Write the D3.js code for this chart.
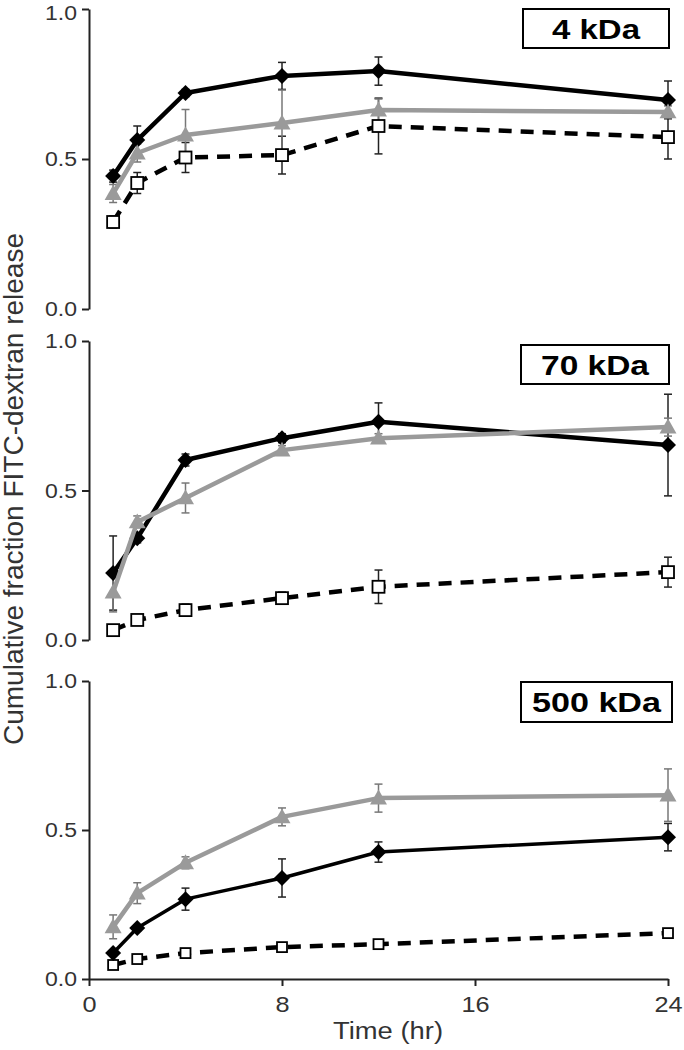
<!DOCTYPE html>
<html><head><meta charset="utf-8">
<script src="https://cdn.jsdelivr.net/npm/d3@7"></script>
<style>body{margin:0;background:#fff;} svg{display:block;}</style>
</head><body>
<svg id="c" width="684" height="1050"></svg>
<script>
const times = [1, 2, 4, 8, 12, 24];
const panelLabels = ["4 kDa", "70 kDa", "500 kDa"];
const xTicks = [0, 8, 16, 24];
const yTicks = [0, 0.5, 1.0];

// 4 kDa
const black4 = [0.443, 0.563, 0.72, 0.777, 0.793, 0.697];
const black4Err = [0.02, 0.047, 0.012, 0.045, 0.047, 0.063];
const gray4 = [0.385, 0.52, 0.58, 0.62, 0.663, 0.657];
const gray4Err = [0.03, 0.03, 0.085, 0.11, 0.037, 0.02];
const open4 = [0.29, 0.42, 0.505, 0.513, 0.61, 0.573];
const open4Err = [0.02, 0.035, 0.05, 0.063, 0.093, 0.073];
// 70 kDa
const black70 = [0.224, 0.34, 0.602, 0.675, 0.73, 0.652];
const black70Err = [0.124, 0.015, 0.02, 0.015, 0.063, 0.17];
const gray70 = [0.16, 0.395, 0.475, 0.635, 0.675, 0.712];
const gray70Err = [0.066, 0.02, 0.05, 0.015, 0.015, 0.03];
const open70 = [0.033, 0.067, 0.1, 0.14, 0.178, 0.227];
const open70Err = [0.01, 0.01, 0.02, 0.02, 0.056, 0.05];
// 500 kDa
const black500 = [0.087, 0.171, 0.268, 0.339, 0.426, 0.476];
const black500Err = [0.01, 0.01, 0.037, 0.064, 0.034, 0.046];
const gray500 = [0.175, 0.288, 0.39, 0.544, 0.607, 0.617];
const gray500Err = [0.04, 0.035, 0.02, 0.03, 0.047, 0.088];
const open500 = [0.047, 0.067, 0.087, 0.107, 0.117, 0.154];
const open500Err = [0.005, 0.005, 0.005, 0.005, 0.005, 0.005];

const panels = [
  {label: panelLabels[0], black: black4, blackErr: black4Err, gray: gray4, grayErr: gray4Err, open: open4, openErr: open4Err},
  {label: panelLabels[1], black: black70, blackErr: black70Err, gray: gray70, grayErr: gray70Err, open: open70, openErr: open70Err},
  {label: panelLabels[2], black: black500, blackErr: black500Err, gray: gray500, grayErr: gray500Err, open: open500, openErr: open500Err}
];

const svg = d3.select("#c");
const font = "'Liberation Sans', Arial, Helvetica, sans-serif";
const STRETCH = 1.15;
function stretch(sel) {
  sel.each(function () {
    const w = this.getComputedTextLength();
    d3.select(this).attr("textLength", w * STRETCH).attr("lengthAdjust", "spacingAndGlyphs");
  });
}
const x = d3.scaleLinear().domain([0, 24]).range([89, 668]);
const yRanges = [[309, 9], [640, 341], [979, 681]];
const boxes = [[523, 9, 146, 39], [521, 345, 148, 39], [521, 682, 151, 40]];

panels.forEach((p, i) => {
  const y = d3.scaleLinear().domain([0, 1]).range(yRanges[i]);
  const g = svg.append("g");

  const ya = g.append("g").attr("transform", `translate(${x(0)},0)`)
    .call(d3.axisLeft(y).tickValues(yTicks).tickFormat(d3.format(".1f")).tickSize(7).tickSizeOuter(0).tickPadding(5));
  ya.select(".domain").attr("stroke", "#222").attr("stroke-width", 2);
  ya.selectAll(".tick line").attr("stroke", "#222").attr("stroke-width", 2);
  ya.selectAll(".tick text").attr("font-family", font).attr("font-size", 20).attr("fill", "#333")
    .attr("dy", d => (i === 0 && d === 1 ? "0.5em" : "0.34em")).call(stretch);

  if (i === 2) {
    const xa = g.append("g").attr("transform", `translate(0,${y(0)})`)
      .call(d3.axisBottom(x).tickValues(xTicks).tickSize(7).tickSizeOuter(0).tickPadding(10));
    xa.select(".domain").attr("stroke", "#222").attr("stroke-width", 2);
    xa.selectAll(".tick line").attr("stroke", "#222").attr("stroke-width", 2);
    xa.selectAll(".tick text").attr("font-family", font).attr("font-size", 22).attr("fill", "#333").call(stretch);
  }

  const line = d3.line().x(d => x(d[0])).y(d => y(d[1]));
  const series = [
    {vals: p.open, err: p.openErr, color: "#000", ecolor: "#222", dash: "13,9", w: 4.5, shape: "square"},
    {vals: p.black, err: p.blackErr, color: "#000", ecolor: "#222", dash: null, w: i === 2 ? 3.5 : 4.5, shape: "diamond"},
    {vals: p.gray, err: p.grayErr, color: "#9a9a9a", ecolor: "#777", dash: null, w: 4.5, shape: "triangle"}
  ];

  series.forEach(s => {
    const eg = g.append("g").attr("stroke", s.ecolor).attr("stroke-width", 1.5);
    times.forEach((t, k) => {
      const cx = x(t), top = y(s.vals[k] + s.err[k]), bot = y(s.vals[k] - s.err[k]);
      eg.append("line").attr("x1", cx).attr("x2", cx).attr("y1", top).attr("y2", bot);
      eg.append("line").attr("x1", cx - 4).attr("x2", cx + 4).attr("y1", top).attr("y2", top);
      eg.append("line").attr("x1", cx - 4).attr("x2", cx + 4).attr("y1", bot).attr("y2", bot);
    });
  });

  series.forEach(s => {
    const pts = times.map((t, k) => [t, s.vals[k]]);
    g.append("path").datum(pts).attr("d", line).attr("fill", "none")
      .attr("stroke", s.color).attr("stroke-width", s.w)
      .attr("stroke-dasharray", s.dash).attr("stroke-linejoin", "round");
    pts.forEach(pt => {
      const cx = x(pt[0]), cy = y(pt[1]);
      if (s.shape === "square") {
        const h = i === 2 ? 5 : 6;
        g.append("rect").attr("x", cx - h).attr("y", cy - h).attr("width", 2 * h).attr("height", 2 * h)
          .attr("fill", "#fff").attr("stroke", "#000").attr("stroke-width", 1.8);
      } else if (s.shape === "diamond") {
        const h = 8;
        g.append("path").attr("d", `M${cx},${cy - h}L${cx + h},${cy}L${cx},${cy + h}L${cx - h},${cy}Z`).attr("fill", "#000");
      } else {
        const h = 8.5;
        g.append("path").attr("d", `M${cx},${cy - h}L${cx + h},${cy + h * 0.75}L${cx - h},${cy + h * 0.75}Z`).attr("fill", "#9a9a9a");
      }
    });
  });

  const b = boxes[i];
  const tw = [88, 108, 129][i];
  g.append("rect").attr("x", b[0]).attr("y", b[1]).attr("width", b[2]).attr("height", b[3])
    .attr("fill", "#fff").attr("stroke", "#000").attr("stroke-width", 2);
  g.append("text").attr("x", b[0] + b[2] / 2).attr("y", b[1] + b[3] / 2 + 10)
    .attr("text-anchor", "middle").attr("font-family", font).attr("font-weight", "bold")
    .attr("font-size", 28).attr("fill", "#000")
    .attr("textLength", tw).attr("lengthAdjust", "spacingAndGlyphs").text(p.label);
});

svg.append("text").attr("transform", "translate(23,489) rotate(-90)")
  .attr("text-anchor", "middle").attr("font-family", font).attr("font-size", 27).attr("fill", "#333")
  .attr("textLength", 512).attr("lengthAdjust", "spacingAndGlyphs")
  .text("Cumulative fraction FITC-dextran release");

svg.append("text").attr("x", 388).attr("y", 1039).attr("text-anchor", "middle")
  .attr("font-family", font).attr("font-size", 23).attr("fill", "#333")
  .attr("textLength", 110).attr("lengthAdjust", "spacingAndGlyphs").text("Time (hr)");
</script>
</body></html>
